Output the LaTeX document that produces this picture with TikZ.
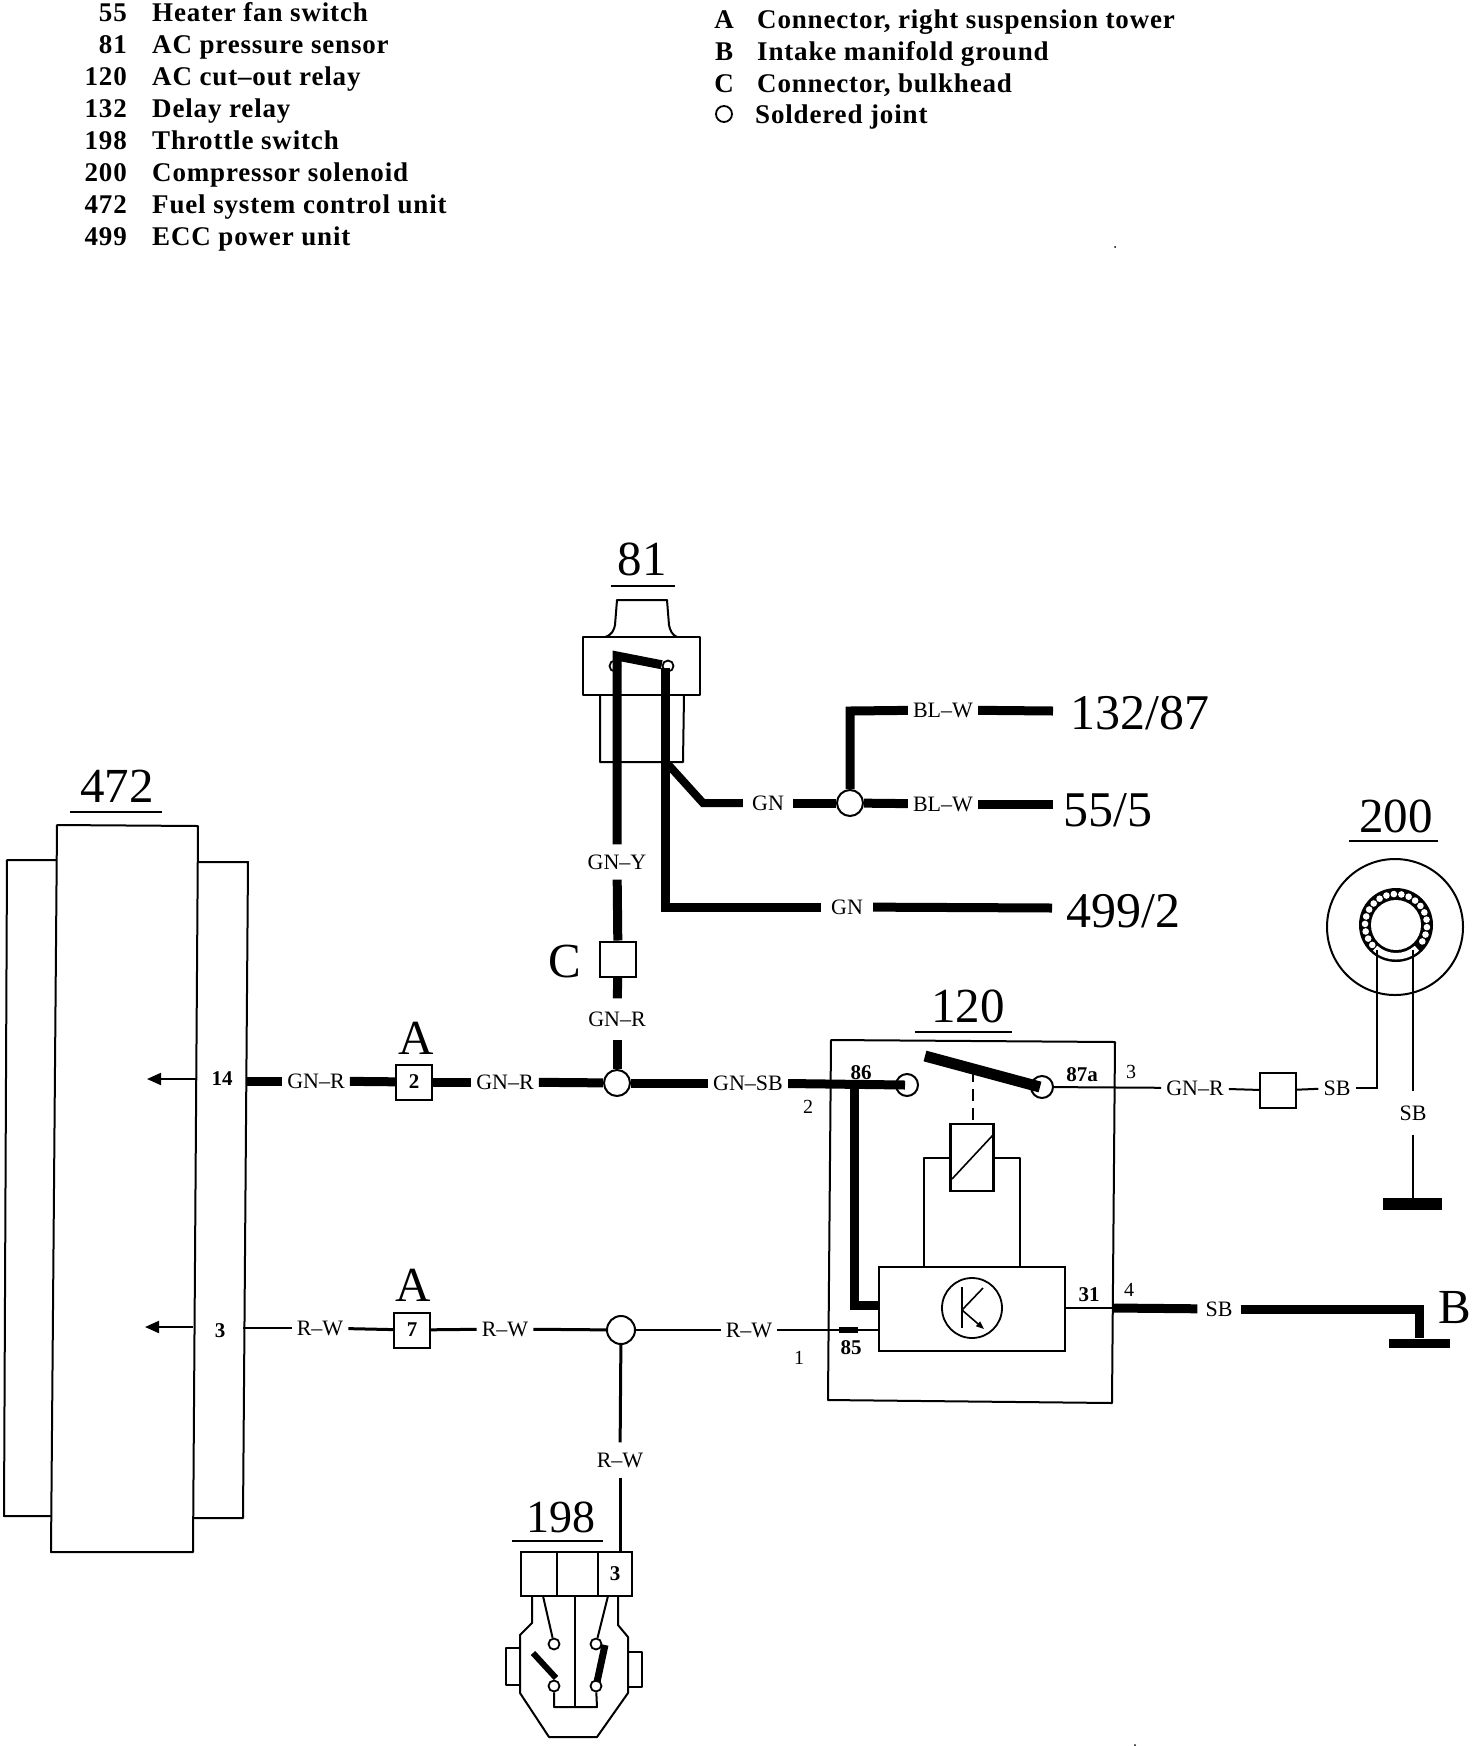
\documentclass[tikz,border=0pt]{standalone}
\usepackage{fontspec}
\setmainfont{Liberation Serif}
\newfontfamily\legfam[LetterSpace=3.1]{Liberation Serif Bold}
\usetikzlibrary{arrows.meta,calc}
\newcommand\fBig{\fontsize{49}{49}\selectfont}
\newcommand\fTerm{\fontsize{50}{50}\selectfont}
\newcommand\fWire{\fontsize{22}{22}\selectfont}
\newcommand\fPin{\bfseries\fontsize{21}{21}\selectfont}
\newcommand\fNum{\fontsize{20}{20}\selectfont}
\newcommand\fLeg{\legfam\fontsize{27}{27}\selectfont}
\tikzset{
  wire/.style={line width=9pt,line cap=butt,line join=miter},
  midwire/.style={line width=3pt},
  thinwire/.style={line width=2pt},
  outline/.style={line width=2pt,line join=round},
  wlabel/.style={font=\fWire,inner xsep=5pt,inner ysep=2pt},
  vlabel/.style={font=\fWire,inner xsep=2pt,inner ysep=10pt},
  bigl/.style={font=\fBig,inner sep=0pt},
  terml/.style={font=\fTerm,inner sep=0pt,anchor=west},
  pinl/.style={font=\fPin,inner sep=0pt},
  numl/.style={font=\fNum,inner sep=0pt},
  joint/.style={circle,draw,fill=white,inner sep=0pt,minimum size=26pt,line width=2pt},
  contact/.style={circle,draw,fill=white,inner sep=0pt,minimum size=22pt,line width=2pt},
  pinhole/.style={circle,draw,fill=white,inner sep=0pt,minimum size=11pt,line width=1.8pt},
  conn/.style={rectangle,draw,fill=white,inner sep=0pt,minimum width=36pt,minimum height=35pt,line width=2pt,font=\fPin},
  legn/.style={font=\fLeg,anchor=mid east,inner sep=0pt},
  legt/.style={font=\fLeg,anchor=mid west,inner sep=0pt},
  gbar/.style={rectangle,fill=black,inner sep=0pt},
  uline/.style={line width=1.8pt},
  tip/.style={-{Triangle[length=14pt,width=12pt]},line width=2pt},
}
\begin{document}
\begin{tikzpicture}[x=1pt,y=-1pt]
\useasboundingbox (0,0) rectangle (1472,1746);
\fill[white] (0,0) rectangle (1472,1746);

% legend, left
\foreach \n/\t/\y in {55/Heater fan switch/19,81/AC pressure sensor/51,120/AC cut–out relay/83,132/Delay relay/115,198/Throttle switch/147,200/Compressor solenoid/179,472/Fuel system control unit/211,499/ECC power unit/243}{
  \node[legn] at (127,\y) {\n};
  \node[legt] at (152,\y) {\t};
}
% legend, right
\foreach \n/\t/\y in {A/{Connector, right suspension tower}/26,B/Intake manifold ground/58,C/{Connector, bulkhead}/90}{
  \node[font=\fLeg,inner sep=0pt,anchor=mid] at (724,\y) {\n};
  \node[legt] at (757,\y) {\t};
}
\node[circle,draw,line width=1.8pt,inner sep=0pt,minimum size=16pt] (legj) at (724,114) {};
\node[legt] at (755,121) {Soldered joint};

% 472
\node[bigl] (n472) at (117,786) {472};
\draw[uline] (70,812) -- (162,812);
\draw[outline] (57,860) -- (7,860) -- (4,1516) -- (51,1516);
\draw[outline] (198,862) -- (248,862) -- (243,1518) -- (193,1518);
\draw[outline] (57,825) -- (198,826) -- (193,1552) -- (51,1552) -- cycle;
\coordinate (a14) at (196,1079); \coordinate (t14) at (147,1079);
\coordinate (a3) at (193,1327); \coordinate (t3) at (145,1327);
\draw[tip] (a14) -- (t14);
\draw[tip] (a3) -- (t3);
\node[pinl] (p14) at (222,1079) {14};
\node[pinl] (p3) at (220,1331) {3};
\coordinate (e14) at (246,1081);
\coordinate (e3) at (243,1328);

% connectors, joints, labels on the two rows
\node[conn] (c2) at (414,1082) {2};
\node[conn] (c7) at (412,1330) {7};
\node[bigl] (lA1) at (416,1038) {A};
\node[bigl] (lA2) at (413,1285) {A};
\node[joint] (jG) at (617,1083) {};
\node[joint,minimum size=28pt] (jR) at (621,1330) {};
\node[wlabel] (lGNRa) at (316,1081) {GN–R};
\node[wlabel] (lGNRb) at (505,1082) {GN–R};
\node[wlabel] (lGNSB) at (748,1083) {GN–SB};
\node[wlabel] (lRWa) at (320,1328) {R–W};
\node[wlabel] (lRWb) at (505,1329) {R–W};
\node[wlabel] (lRWc) at (749,1330) {R–W};
\node[vlabel] (lRWd) at (620,1460) {R–W};

% sensor 81
\node[bigl] (n81) at (642,559) {81};
\draw[uline] (611,586) -- (675,586);
\draw[outline] (605,637) .. controls (612,635) and (614,630) .. (615,625) -- (617,600) -- (667,600) -- (669,625) .. controls (670,630) and (672,635) .. (677,637);
\draw[outline] (583,637) rectangle (700,695);
\draw[outline] (600,695) -- (600,762) -- (683,762) -- (684,695);
\node[pinhole] (sw1) at (615,666) {};
\node[pinhole] (sw2) at (668,666) {};
\coordinate (br) at (617,656);
\coordinate (r1) at (665,668);
\coordinate (r2) at (665,907);
\coordinate (b1) at (665,761);
\coordinate (b2) at (703,803);
\node[vlabel] (lGNY) at (617,862) {GN–Y};
\node[vlabel,inner ysep=13pt] (lGNRc) at (617,1019) {GN–R};
\node[conn] (cC) at (618,959) {};
\node[bigl] (lC) at (565,962) {C};
\draw[wire] (lGNY) -- (br) -- (sw2);
\node[wlabel,inner xsep=9pt] (lGNa) at (768,803) {GN};
\node[wlabel,inner xsep=10pt] (lGNb) at (847,907) {GN};
\draw[wire] (r1) -- (r2) -- (lGNb);
\draw[wire,line width=8pt] (b1) -- (b2) -- (lGNa);
\coordinate (r3) at (1052,908);
\draw[wire] (lGNb) -- (r3);
\node[joint] (jB) at (850,803) {};
\node[wlabel] (lBLa) at (943,710) {BL–W};
\node[wlabel] (lBLb) at (943,804) {BL–W};
\coordinate (j1) at (850,711);
\coordinate (e1) at (1053,711);
\coordinate (e2) at (1053,804);
\draw[wire] (lGNa) -- (jB);
\draw[wire] (jB) -- (j1) -- (lBLa);
\draw[wire] (jB) -- (lBLb);
\draw[wire] (lBLa) -- (e1);
\draw[wire] (lBLb) -- (e2);
\node[terml] (t1) at (1070,713) {132/87};
\node[terml] (t2) at (1063,810) {55/5};
\node[terml] (t3b) at (1066,911) {499/2};
\draw[wire] (lGNY) -- (cC);
\draw[wire] (cC) -- (lGNRc);
\draw[wire] (lGNRc) -- (jG);

% row wires
\draw[wire] (e14) -- (lGNRa);
\draw[wire] (lGNRa) -- (c2);
\draw[wire] (c2) -- (lGNRb);
\draw[wire] (lGNRb) -- (jG);
\draw[wire] (jG) -- (lGNSB);
\draw[thinwire] (e3) -- (lRWa);
\draw[midwire] (lRWa) -- (c7);
\draw[midwire] (c7) -- (lRWb);
\draw[midwire] (lRWb) -- (jR);
\draw[thinwire] (jR) -- (lRWc);
\draw[midwire] (jR) -- (lRWd);

% relay 120
\node[bigl] (n120) at (968,1006) {120};
\draw[uline] (915,1032) -- (1012,1032);
\draw[outline] (831,1040) -- (1115,1042) -- (1112,1403) -- (828,1400) -- cycle;
\node[rectangle,draw,line width=2pt,inner sep=0pt,minimum width=186pt,minimum height=84pt] (kbox) at (972,1309) {};
\node[rectangle,draw,fill=white,line width=2.2pt,inner sep=0pt,minimum width=43pt,minimum height=67pt] (coil) at (972,1157.5) {};
\draw[line width=1.6pt] (952,1179) -- (993,1135);
\draw[outline,line width=2.4pt] (coil.west |- 0,1158) -- (924,1158) -- (924,1267);
\draw[outline,line width=2.4pt] (coil.east |- 0,1158) -- (1020,1158) -- (1020,1267);
\draw[line width=2.4pt,dash pattern=on 12pt off 7pt] (973,1120) -- (973,1072);
\node[contact] (j86) at (907,1085) {};
\node[contact] (j87) at (1042,1087) {};
\coordinate (b86a) at (925,1056);
\coordinate (b86b) at (1040,1087);
\draw[line width=11pt] (b86a) -- (b86b);
\coordinate (s86) at (854,1084);
\coordinate (s86b) at (854,1305);
\coordinate (w86) at (905,1085);
\draw[wire] (lGNSB) -- (w86);
\draw[line width=9pt,line join=miter] (s86) -- (s86b) -- (kbox.west |- s86b);
\node[pinl] (p86) at (861,1073) {86};
\node[pinl] (p87) at (1082,1075) {87a};
\node[pinl] (p85) at (851,1348) {85};
\node[pinl] (p31) at (1089,1295) {31};
\node[numl] (q2) at (808,1107) {2};
\node[numl] (q3) at (1131,1072) {3};
\node[numl] (q4) at (1129,1290) {4};
\node[numl] (q1) at (799,1358) {1};
\coordinate (k85) at (879,1330);
\coordinate (k85a) at (839,1330);
\coordinate (k85b) at (858,1330);
\draw[thinwire] (lRWc) -- (k85);
\draw[line width=6pt] (k85a) -- (k85b);
% timer symbol
\node[circle,draw,line width=1.8pt,inner sep=0pt,minimum size=60pt] (kc) at (972,1308) {};
\draw[line width=1.6pt] (962,1287) -- (962,1328);
\draw[line width=1.6pt] (983,1288) -- (962,1310);
\draw[line width=1.6pt,-{Triangle[length=8pt,width=6pt]}] (962,1310) -- (984,1329);

% output wires
\node[wlabel] (lGNRd) at (1195,1088) {GN–R};
\node[conn] (cS) at (1278,1090.5) {};
\node[wlabel] (lSBa) at (1337,1088) {SB};
\draw[thinwire] (j87) -- (lGNRd);
\draw[thinwire] (lGNRd) -- (cS);
\draw[thinwire] (cS) -- (lSBa);
\coordinate (o31) at (1113,1308);
\node[wlabel,inner xsep=8pt] (lSBc) at (1219,1309) {SB};
\coordinate (g1) at (1419,1309);
\node[gbar,minimum width=61pt,minimum height=9pt] (gndB) at (1419,1343) {};
\draw[thinwire] (kbox.east |- o31) -- (o31);
\draw[wire] (o31) -- (lSBc);
\draw[wire] (lSBc) -- (g1) -- (gndB);
\node[bigl] (lB) at (1455,1308) {B};

% solenoid 200
\node[bigl] (n200) at (1396,816) {200};
\draw[uline] (1349,841) -- (1438,841);
\coordinate (cs) at (1396,925);
\draw[line width=2pt] (1395,927) circle[radius=68];
\fill[black] (cs) circle[radius=37];
\fill[white] (cs) circle[radius=25];
\fill[white] ($(cs)+(48:28)$) arc[start angle=48,end angle=132,radius=28] -- ($(cs)+(132:34.5)$) arc[start angle=132,end angle=48,radius=34.5] -- cycle;
\foreach \a in {140,154,...,400}{
  \fill[white] ($(cs)+(\a:31)$) circle[radius=3.3];
}
\coordinate (s1) at (1377,1088);
\coordinate (s2) at (1377,950);
\coordinate (s3) at (1413,950);
\node[vlabel,inner ysep=14pt] (lSBb) at (1413,1113) {SB};
\node[gbar,minimum width=59pt,minimum height=12pt] (gnd2) at (1412,1204) {};
\draw[thinwire] (lSBa) -- (s1) -- (s2);
\draw[thinwire] (s3) -- (lSBb);
\draw[thinwire] (lSBb) -- (lSBb |- gnd2.north);

% throttle switch 198
\node[bigl,font=\fontsize{46}{46}\selectfont] (n198) at (561,1517) {198};
\draw[uline] (512,1541) -- (603,1541);
\draw[outline] (532,1596) -- (532,1623) -- (520,1635) -- (520,1693) -- (549,1737) -- (597,1737) -- (628,1693) -- (628,1637) -- (618,1625) -- (618,1596);
\draw[outline] (520,1648) -- (506,1648) -- (506,1685) -- (520,1685);
\draw[outline] (628,1652) -- (642,1652) -- (642,1687) -- (628,1687);
\node[rectangle,draw,line width=2.2pt,inner sep=0pt,minimum width=36pt,minimum height=44pt] (bk1) at (539,1574) {};
\node[rectangle,draw,line width=2.2pt,inner sep=0pt,minimum width=41pt,minimum height=44pt] (bk2) at (577.5,1574) {};
\node[rectangle,draw,line width=2.2pt,inner sep=0pt,minimum width=34pt,minimum height=44pt,font=\fPin] (bk3) at (615,1574) {3};
\draw[midwire] (lRWd) -- (lRWd |- bk3.north);
\node[pinhole] (s98a) at (554,1644) {};
\node[pinhole] (s98b) at (596,1644) {};
\node[pinhole] (s98c) at (554,1686) {};
\node[pinhole] (s98d) at (596,1686) {};
\coordinate (f1) at (543,1596);
\coordinate (f2) at (608,1596);
\draw[thinwire] (f1) -- (s98a);
\draw[thinwire] (f2) -- (s98b);
\coordinate (f3) at (554,1707);
\coordinate (f4) at (597,1707);
\coordinate (f5) at (575,1596);
\coordinate (f6) at (575,1707);
\draw[outline] (s98c) -- (f3) -- (f4) -- (s98d);
\draw[line width=2.4pt] (f5) -- (f6);
\coordinate (g3) at (533,1653);
\coordinate (g4) at (556,1678);
\coordinate (g5) at (605,1645);
\coordinate (g6) at (597,1682);
\draw[line width=6pt] (g3) -- (g4);
\draw[line width=7pt] (g5) -- (g6);

% specks
\fill (1115,247) circle[radius=1];
\fill (1135,1745) circle[radius=1];
\end{tikzpicture}
\end{document}
